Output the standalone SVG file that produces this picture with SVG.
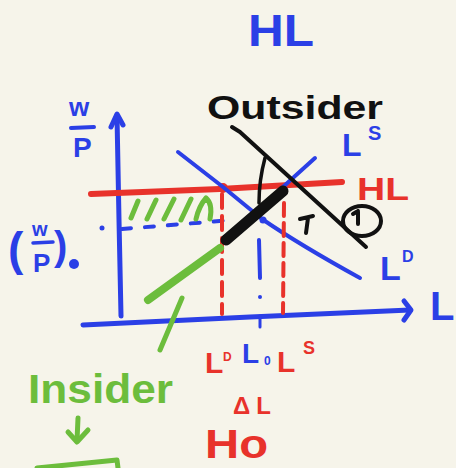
<svg xmlns="http://www.w3.org/2000/svg" width="456" height="468" viewBox="0 0 456 468">
<defs>
<style>
.bl{stroke:#2b3fe6;fill:none;stroke-linecap:round;stroke-linejoin:round}
.rd{stroke:#e8322b;fill:none;stroke-linecap:round;stroke-linejoin:round}
.gr{stroke:#6cbd3c;fill:none;stroke-linecap:round;stroke-linejoin:round}
.bk{stroke:#111;fill:none;stroke-linecap:round;stroke-linejoin:round}
text{font-family:"Liberation Sans",Arial,sans-serif;font-weight:bold}
.tb{fill:#2b3fe6}.tr{fill:#e8322b}.tg{fill:#6cbd3c}.tk{fill:#111}
</style>
</defs>
<rect width="456" height="468" fill="#f6f4ea"/>
<text class="tb" x="248" y="46" font-size="44" textLength="66" lengthAdjust="spacingAndGlyphs">HL</text>
<g id="axes">
<path class="bl" stroke-width="5" d="M117 116 L119 220 L121 316"/>
<path class="bl" stroke-width="5" d="M111 127 L117 114 L123 125"/>
<path class="bl" stroke-width="5" d="M83 325 L250 317 L410 310"/>
<path class="bl" stroke-width="5" d="M404 301 L411 310 L404 320"/>
<text class="tb" x="430" y="320" font-size="40">L</text>
<text class="tb" x="69" y="116" font-size="26">w</text>
<path class="bl" stroke-width="4" d="M71 128 L94 127"/>
<text class="tb" x="73" y="157" font-size="28">P</text>
</g>
<g id="wage0">
<text class="tb" x="8" y="265" font-size="46" font-weight="normal">(</text>
<text class="tb" x="32" y="236" font-size="20">w</text>
<path class="bl" stroke-width="3.5" d="M33 243 L53 242"/>
<text class="tb" x="33" y="272" font-size="26">P</text>
<text class="tb" x="54" y="260" font-size="40" font-weight="normal">)</text>
<circle cx="74" cy="264" r="5" fill="#2b3fe6"/>
<circle cx="102" cy="228" r="2.5" fill="#2b3fe6"/>
<path class="bl" stroke-width="4" stroke-dasharray="9 14" d="M122 229 L232 220"/>
<circle cx="263" cy="220" r="3.5" fill="#2b3fe6"/>
</g>
<g id="hatch">
<path class="gr" stroke-width="5" d="M131 218 L138 201 M147 219 L156 200 M164 219 L174 199 M181 220 L191 199 M196 219 Q199 206 206 198 Q213 204 210 219"/>
</g>
<g id="ML-line">
<path class="rd" stroke-width="6" d="M91 194 L220 189 L342 182"/>
<circle cx="223" cy="188" r="5" fill="#e8322b"/>
<text class="tr" x="357" y="200" font-size="32" textLength="52" lengthAdjust="spacingAndGlyphs">HL</text>
</g>
<g id="demand">
<path class="bl" stroke-width="4" d="M178 152 L223 187 L262 219 Q300 245 360 278"/>
<text class="tb" x="380" y="280" font-size="34">L</text>
<text class="tb" x="402" y="262" font-size="16">D</text>
</g>
<g id="supply">
<path class="bl" stroke-width="4" d="M315 158 L284 186 L240 232"/>
<text class="tb" x="342" y="156" font-size="32">L</text>
<text class="tb" x="368" y="140" font-size="20">S</text>
</g>
<g id="connectors">
<path class="rd" stroke-width="4" stroke-dasharray="14 8" d="M222 194 L222 314"/>
<path class="rd" stroke-width="4" stroke-dasharray="13 7" d="M284 203 L283 313"/>
<path class="bl" stroke-width="4" d="M259 240 L260 278"/>
<circle cx="260" cy="297" r="2" fill="#2b3fe6"/>
<path class="bl" stroke-width="3" d="M260 316 L260 327"/>
<path class="gr" stroke-width="8" d="M148 300 L220 248"/>
<path class="gr" stroke-width="5" d="M182 298 L160 350"/>
<path class="gr" stroke-width="5" d="M78 418 L77 441"/>
<path class="gr" stroke-width="5" d="M68 432 L77 442 L88 430"/>
<path class="gr" stroke-width="5" d="M37 468 L117 460 L118 468"/>
</g>
<g id="outsider">
<text class="tk" x="207" y="119" font-size="34" textLength="176" lengthAdjust="spacingAndGlyphs">Outsider</text>
<path class="bk" stroke-width="4" d="M232 127 L240 132 L366 247"/>
<path class="bk" stroke-width="3.5" d="M265 158 Q259 180 259 203"/>
<path class="bk" stroke-width="11" d="M226 240 L283 191"/>
<path class="bk" stroke-width="4" d="M306 233 L308 218 M300 219 L313 216"/>
<ellipse class="bk" stroke-width="4" cx="362" cy="221" rx="19" ry="15"/>
<path class="bk" stroke-width="4" d="M358 211 L358 224 M353 214 L358 211"/>
</g>
<g id="insider">
<text class="tg" x="28" y="403" font-size="40" textLength="145" lengthAdjust="spacingAndGlyphs">Insider</text>
</g>
<g id="bottom-labels">
<text class="tr" x="205" y="373" font-size="30">L</text>
<text class="tr" x="223" y="361" font-size="12">D</text>
<text class="tb" x="242" y="363" font-size="28">L</text>
<text class="tb" x="264" y="365" font-size="12">0</text>
<text class="tr" x="277" y="372" font-size="30">L</text>
<text class="tr" x="303" y="354" font-size="18">S</text>
<text class="tr" x="233" y="414" font-size="24" letter-spacing="6">ΔL</text>
<text class="tr" x="205" y="458" font-size="40" textLength="63" lengthAdjust="spacingAndGlyphs">Ho</text>
</g>
</svg>
